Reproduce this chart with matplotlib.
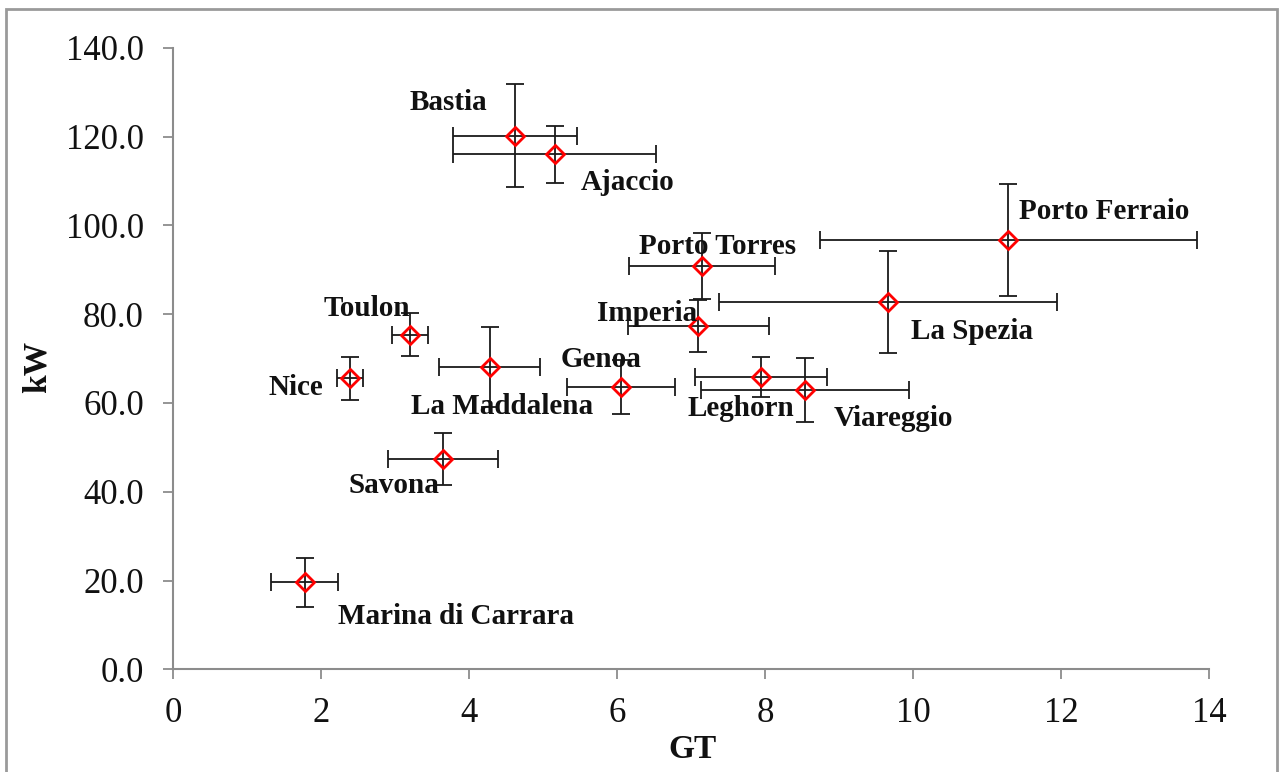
import matplotlib
matplotlib.use("Agg")
import matplotlib.pyplot as plt
from matplotlib.patches import Rectangle

plt.rcParams['font.family'] = ['Liberation Serif', 'DejaVu Serif']

ports = ["Bastia", "Ajaccio", "Porto Ferraio", "Porto Torres", "La Spezia",
         "Imperia", "Toulon", "La Maddalena", "Nice", "Genoa", "Leghorn",
         "Viareggio", "Savona", "Marina di Carrara"]
gt = [4.62, 5.16, 11.29, 7.15, 9.66, 7.10, 3.20, 4.28, 2.39, 6.05, 7.95, 8.54, 3.65, 1.78]
kw = [120.2, 116.0, 96.6, 90.8, 82.8, 77.3, 75.4, 68.1, 65.5, 63.6, 65.9, 62.9, 47.4, 19.6]
gt_err = [0.84, 1.37, 2.55, 0.99, 2.28, 0.95, 0.24, 0.68, 0.18, 0.73, 0.89, 1.40, 0.74, 0.45]
kw_err = [11.6, 6.4, 12.6, 7.4, 11.5, 5.8, 4.8, 9.0, 4.9, 6.1, 4.5, 7.3, 5.9, 5.5]

# label anchor (GT, kW) for each port name, centred on the text
label_xy = [(3.72, 127.6), (6.15, 109.6), (12.59, 103.1), (7.36, 95.2), (10.80, 76.0),
            (6.41, 80.2), (2.62, 81.3), (4.45, 59.1), (1.66, 63.5), (5.78, 69.8),
            (7.68, 58.7), (9.74, 56.5), (2.99, 41.5), (3.83, 11.9)]

x_ticks = [0, 2, 4, 6, 8, 10, 12, 14]
y_ticks = [0, 20, 40, 60, 80, 100, 120, 140]

fig = plt.figure(figsize=(12.81, 7.72), dpi=100)
ax = fig.add_axes([173 / 1281, 1 - 669.3 / 772, (1209 - 173) / 1281, (669.3 - 47.7) / 772])

ax.errorbar(gt, kw, xerr=gt_err, yerr=kw_err, fmt='none', ecolor='#1a1a1a',
            elinewidth=1.3, capsize=6.5, capthick=1.3, zorder=2)
ax.plot(gt, kw, linestyle='none', marker='D', markersize=9.5, markerfacecolor='none',
        markeredgecolor='#ff0000', markeredgewidth=2.0, zorder=3)

for name, (lx, ly) in zip(ports, label_xy):
    ax.text(lx, ly, name, ha='center', va='center', fontsize=21,
            fontweight='bold', color='#111111', zorder=4)

ax.set_xlim(0, 14)
ax.set_ylim(0, 140)
ax.set_xticks(x_ticks)
ax.set_xticklabels([str(v) for v in x_ticks])
ax.set_yticks(y_ticks)
ax.set_yticklabels([f"{v:.1f}" for v in y_ticks])

for side in ('top', 'right'):
    ax.spines[side].set_visible(False)
for side in ('left', 'bottom'):
    ax.spines[side].set_color('#8c8c8c')
    ax.spines[side].set_linewidth(1.5)
ax.tick_params(axis='both', direction='out', length=7, width=1.3, color='#8c8c8c',
               labelsize=25, labelcolor='#111111')
ax.tick_params(axis='x', pad=13)
ax.tick_params(axis='y', pad=14)

fig.text(37 / 1281, 1 - 367 / 772, "kW", rotation=90, ha='center', va='center',
         fontsize=24, fontweight='bold', color='#111111')
fig.text(692 / 1281, 1 - 750 / 772, "GT", ha='center', va='center',
         fontsize=24, fontweight='bold', color='#111111')

frame = Rectangle((6 / 1281, -0.02), (1277 - 6) / 1281, 1.02 - 9 / 772,
                  transform=fig.transFigure, fill=False, edgecolor='#9a9a9a',
                  linewidth=2.0)
fig.patches.append(frame)

fig.savefig("out.png", dpi=100)
